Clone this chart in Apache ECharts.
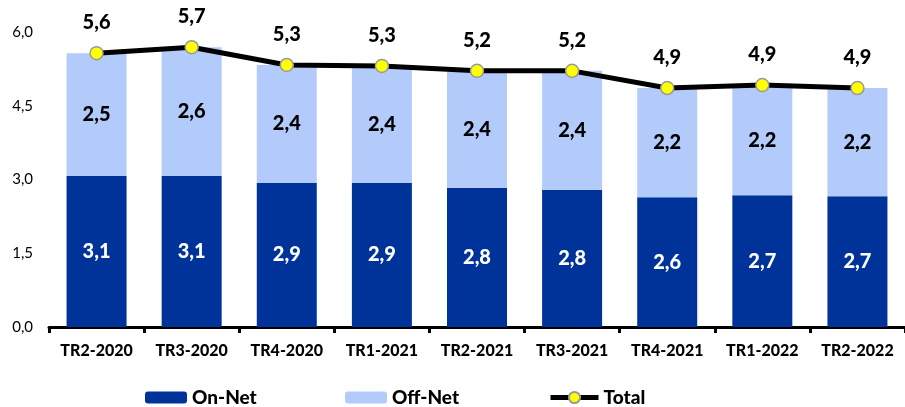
<!DOCTYPE html>
<html><head><meta charset="utf-8">
<script src="https://cdn.jsdelivr.net/npm/echarts@6/dist/echarts.min.js"></script>
<style>html,body{margin:0;padding:0;background:#fff}#c{width:905px;height:407px}</style>
</head><body><div id="c"></div>
<script>
const categories = ['TR2-2020','TR3-2020','TR4-2020','TR1-2021','TR2-2021','TR3-2021','TR4-2021','TR1-2022','TR2-2022'];
const onNet  = [3.07, 3.07, 2.93, 2.93, 2.83, 2.79, 2.64, 2.68, 2.66];
const offNet = [2.50, 2.62, 2.40, 2.38, 2.38, 2.42, 2.22, 2.24, 2.20];
const total  = [5.57, 5.69, 5.33, 5.31, 5.21, 5.21, 4.86, 4.92, 4.86];
const yTicks = [0, 1.5, 3.0, 4.5, 6.0];

const FONT = 'Lato';
const W = 900;
const fmt = v => Number(v).toFixed(1).replace('.', ',');
const chart = echarts.init(document.getElementById('c'));
const legendText = {fontFamily: FONT, fontWeight: W, fontSize: 19, color: '#000'};
chart.setOption({
  animation: false,
  textStyle: {fontFamily: FONT},
  grid: {left: 49, right: -9, top: 32, bottom: 80},
  legend: [
    {data: ['On-Net'], left: 140, top: 383, itemWidth: 42, itemHeight: 12, itemGap: 4, textStyle: legendText},
    {data: ['Off-Net'], left: 340, top: 383, itemWidth: 42, itemHeight: 12, textStyle: legendText},
    {data: ['Total'], left: 543, top: 383, itemWidth: 48, itemHeight: 14, textStyle: legendText,
     lineStyle: {width: 5, color: '#000'}}
  ],
  xAxis: {
    type: 'category', data: categories,
    axisLine: {lineStyle: {color: '#000', width: 3}},
    axisTick: {show: true, alignWithLabel: false, interval: 0, length: 6, lineStyle: {color: '#000', width: 3}},
    axisLabel: {interval: 0, hideOverlap: false, fontFamily: FONT, fontWeight: W, fontSize: 16, color: '#000', margin: 16}
  },
  yAxis: {
    type: 'value', min: yTicks[0], max: yTicks[yTicks.length-1], interval: yTicks[1]-yTicks[0],
    axisLine: {show: false}, axisTick: {show: false}, splitLine: {show: false},
    axisLabel: {fontFamily: FONT, fontSize: 15, color: '#000', margin: 16, formatter: v => fmt(v)}
  },
  series: [
    {name: 'On-Net', type: 'bar', stack: 's', data: onNet, barWidth: 60,
     itemStyle: {color: '#003399'},
     label: {show: true, position: 'inside', formatter: p => fmt(p.value), color: '#fff', fontWeight: W, fontSize: 20, fontFamily: FONT}},
    {name: 'Off-Net', type: 'bar', stack: 's', data: offNet, barWidth: 60,
     itemStyle: {color: '#B3CBFA'},
     label: {show: true, position: 'inside', formatter: p => fmt(p.value), color: '#000', fontWeight: W, fontSize: 20, fontFamily: FONT}},
    {name: 'Total', type: 'line', data: total, z: 5,
     lineStyle: {color: '#000', width: 5}, itemStyle: {color: '#FFFF00', borderColor: '#999', borderWidth: 1.5},
     symbol: 'circle', symbolSize: 13,
     label: {show: true, position: 'top', distance: 13, formatter: p => fmt(p.value), color: '#000', fontWeight: W, fontSize: 20, fontFamily: FONT}}
  ]
});
</script></body></html>
